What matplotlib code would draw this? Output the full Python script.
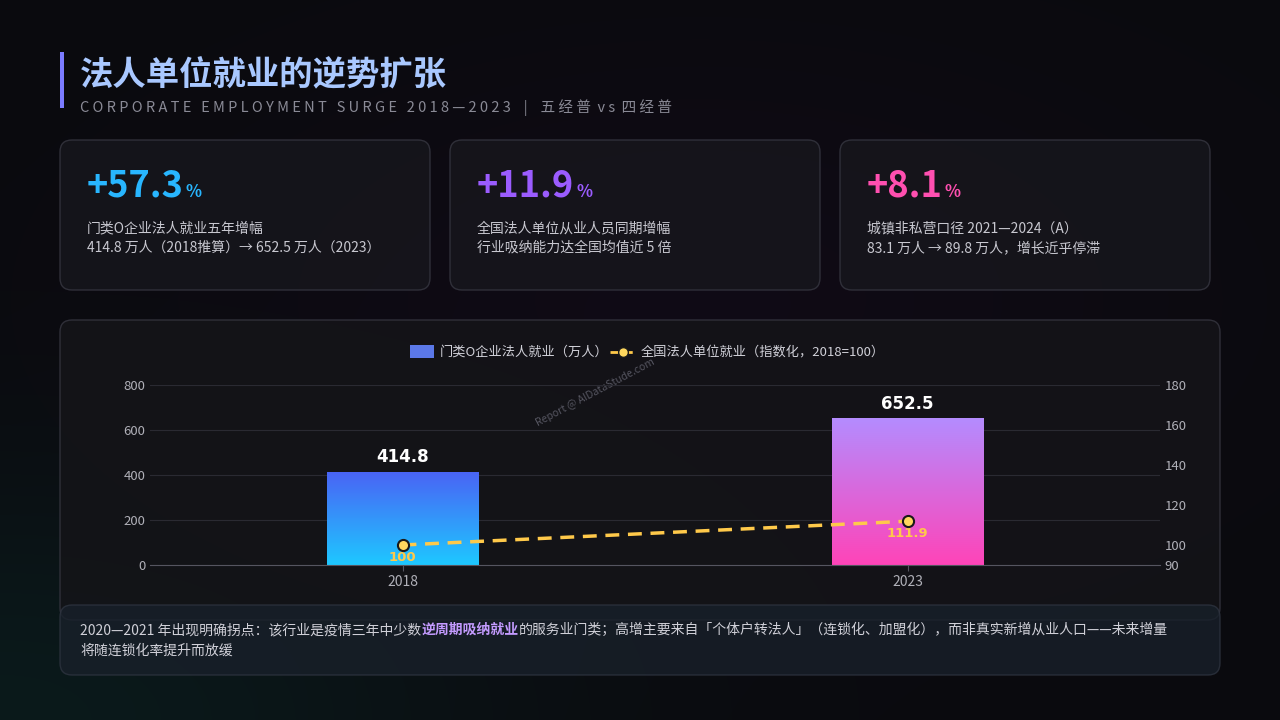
import numpy as np
import matplotlib.pyplot as plt
from matplotlib.patches import FancyBboxPatch, Rectangle
from matplotlib.colors import LinearSegmentedColormap

plt.rcParams['font.family'] = ['Noto Sans CJK SC', 'DejaVu Sans']

years = ['2018', '2023']
employment = [414.8, 652.5]          # 万人
national_index = [100, 111.9]        # 2018=100
bar_colors = [('#1ec8ff', '#4a63f5'), ('#ff44b8', '#b48cff')]  # bottom, top

cards = [
    ('+57.3', '#28b6ff', '门类O企业法人就业五年增幅', '414.8 万人（2018推算）→ 652.5 万人（2023）'),
    ('+11.9', '#9b5cff', '全国法人单位从业人员同期增幅', '行业吸纳能力达全国均值近 5 倍'),
    ('+8.1', '#ff4fb0', '城镇非私营口径 2021—2024（A）', '83.1 万人 → 89.8 万人，增长近乎停滞'),
]

W, H = 1280, 720
fig = plt.figure(figsize=(12.8, 7.2), dpi=100)
fig.patch.set_facecolor('#0b0b0f')
renderer = fig.canvas.get_renderer()

# background glow
bg = fig.add_axes([0, 0, 1, 1])
bg.set_xlim(0, W); bg.set_ylim(H, 0); bg.axis('off')
yy, xx = np.mgrid[0:H, 0:W]
glow = np.exp(-(((xx - 0) / 500) ** 2 + ((yy - 720) / 250) ** 2)) * 0.5
glow2 = np.exp(-(((xx - 700) / 500) ** 2 + ((yy - 300) / 250) ** 2)) * 0.35
img = np.zeros((H, W, 3))
img[..., 0] = 0.04 + 0.06 * glow2
img[..., 1] = 0.04 + 0.12 * glow
img[..., 2] = 0.055 + 0.10 * glow + 0.08 * glow2
bg.imshow(img, extent=(0, W, H, 0), aspect='auto', zorder=0)

def box(x0, y0, x1, y1, fc='#16161c', ec='#33333d', a=0.9):
    bg.add_patch(FancyBboxPatch((x0, y0), x1 - x0, y1 - y0, boxstyle='round,pad=0,rounding_size=12',
                                fc=fc, ec=ec, lw=1, alpha=a, zorder=1))

def right_of(t, pad=2):
    bb = t.get_window_extent(renderer)
    return bb.x1 + pad  # figure px == data px in x for bg

# title
bg.add_patch(Rectangle((60, 52), 4, 56, fc='#7b7bff', zorder=2))
bg.text(80, 76, '法人单位就业的逆势扩张', fontsize=24, fontweight='bold', color='#a9c8ff', va='center', zorder=3)
bg.text(80, 108, 'C O R P O R A T E   E M P L O Y M E N T   S U R G E   2 0 1 8 — 2 0 2 3    |    五 经 普  v s  四 经 普',
        fontsize=10.5, color='#8a8a96', va='center', zorder=3)

# cards
for i, (big, col, l1, l2) in enumerate(cards):
    x0 = 60 + i * 390
    box(x0, 140, x0 + 370, 290)
    t = bg.text(x0 + 27, 186, big, fontsize=26, fontweight='bold', color=col, va='center', zorder=3)
    bg.text(right_of(t), 192, '%', fontsize=12, fontweight='bold', color=col, va='center', zorder=3)
    bg.text(x0 + 27, 228, l1, fontsize=10, color='#c8c8d0', va='center', zorder=3)
    bg.text(x0 + 27, 248, l2, fontsize=10, color='#c8c8d0', va='center', zorder=3)

# chart panel and note
box(60, 320, 1220, 620, fc='#141418')
box(60, 605, 1220, 675, fc='#18202a', ec='#2e3440', a=0.8)
t1 = bg.text(80, 630, '2020—2021 年出现明确拐点：该行业是疫情三年中少数', fontsize=10, color='#d0d0d8', va='center', zorder=3)
t2 = bg.text(right_of(t1, 0), 630, '逆周期吸纳就业', fontsize=10, color='#c49bff', fontweight='bold', va='center', zorder=3)
bg.text(right_of(t2, 0), 630, '的服务业门类；高增主要来自「个体户转法人」（连锁化、加盟化），而非真实新增从业人口——未来增量',
        fontsize=10, color='#d0d0d8', va='center', zorder=3)
bg.text(80, 651, '将随连锁化率提升而放缓', fontsize=10, color='#d0d0d8', va='center', zorder=3)
bg.text(595, 392, 'Report @ AIDataStude.com', fontsize=7.5, color='#555560', rotation=28,
        ha='center', va='center', zorder=3)

# main chart
ax = fig.add_axes([150 / W, 1 - 565 / H, 1010 / W, 180 / H])
ax.patch.set_alpha(0)
x = np.arange(len(years))
bw = 0.3
for xi, v, (c0, c1) in zip(x, employment, bar_colors):
    cmap = LinearSegmentedColormap.from_list('g', [c0, c1])
    grad = np.linspace(0, 1, 256).reshape(-1, 1)
    im = ax.imshow(grad, cmap=cmap, origin='lower', extent=(xi - bw / 2, xi + bw / 2, 0, v),
                   aspect='auto', zorder=2)
    clip = Rectangle((xi - bw / 2, 0), bw, v, fc='none', ec='none', transform=ax.transData)
    ax.add_patch(clip)
    im.set_clip_path(clip)
    ax.text(xi, v + 25, f'{v}', ha='center', va='bottom', color='white', fontsize=12, fontweight='bold',
            family=['DejaVu Sans'])
ax.set_xlim(-0.5, 1.5)
ax.set_ylim(0, 800)
ax.set_xticks(x, years)
ax.set_yticks([0, 200, 400, 600, 800])
ax.grid(axis='y', color='#2a2a32', lw=0.8)
ax.set_axisbelow(True)
for s in ['top', 'right', 'left']:
    ax.spines[s].set_visible(False)
ax.spines['bottom'].set_color('#555560')
ax.tick_params(colors='#b0b0b8', labelsize=9.5, length=0)
ax.tick_params(axis='x', length=4, color='#555560', labelsize=10)

ax2 = ax.twinx()
ax2.set_ylim(90, 180)
ax2.set_yticks([90, 100, 120, 140, 160, 180])
for s in ax2.spines.values():
    s.set_visible(False)
ax2.tick_params(colors='#b0b0b8', labelsize=9.5, length=0)
ax2.plot(x, national_index, color='#ffc94a', lw=2.5, ls=(0, (4, 2.5)), marker='o', ms=8,
         mfc='#ffd75e', mec='#1a1a1a', mew=1.5, zorder=5)
for xi, v in zip(x, national_index):
    ax2.text(xi, v - 3, f'{v:g}', ha='center', va='top', color='#ffc94a', fontsize=9.5, fontweight='bold',
             family=['DejaVu Sans'])

# legend
bg.add_patch(Rectangle((410, 345), 24, 13, fc='#5b78e8', zorder=3))
bg.text(440, 352, '门类O企业法人就业（万人）', fontsize=9.5, color='#d0d0d8', va='center', zorder=3)
bg.plot([610, 636], [352, 352], color='#ffc94a', lw=2, ls=(0, (3, 2)), zorder=3)
bg.plot([623], [352], 'o', ms=7, mfc='#ffd75e', mec='#1a1a1a', zorder=4)
bg.text(641, 352, '全国法人单位就业（指数化，2018=100）', fontsize=9.5, color='#d0d0d8', va='center', zorder=3)

fig.savefig('out.png', dpi=100, facecolor=fig.get_facecolor())
